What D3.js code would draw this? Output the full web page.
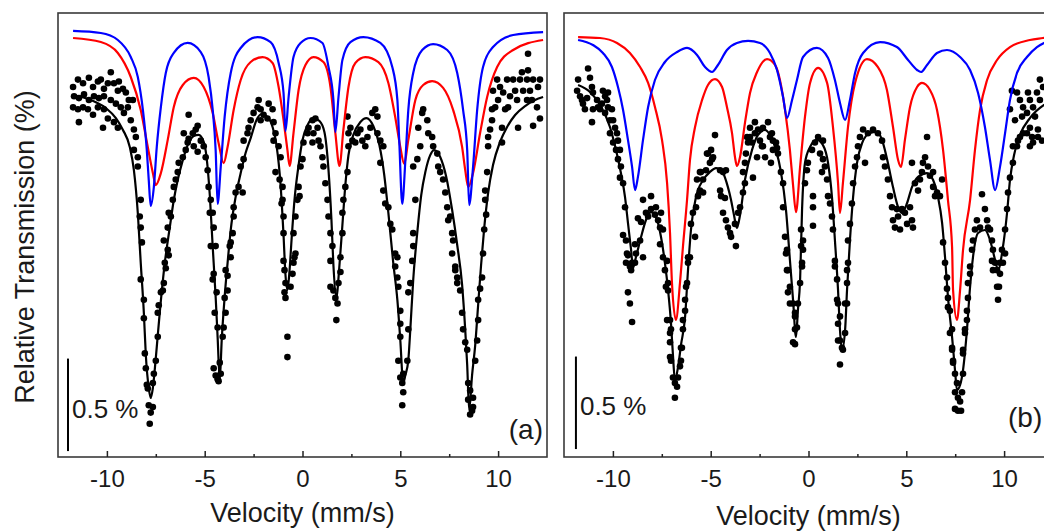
<!DOCTYPE html>
<html><head><meta charset="utf-8">
<script src="https://cdn.jsdelivr.net/npm/d3@7"></script>
<style>
body{margin:0;background:#fff;}
svg text{font-family:"Liberation Sans",Arial,sans-serif;fill:#1a1a1a;}
</style>
</head><body>
<svg id="chart" width="1044" height="532"></svg>
<script>
// ---------------- data ----------------
const velocityDomain = [-12.5, 12.5];
const transmissionDomain = [97.6, 100.0];
const velocityTicks = [-10, -5, 0, 5, 10];
const velocityTickLabels = ["-10", "-5", "0", "5", "10"];
const velocityMinorTicks = [-7.5, -2.5, 2.5, 7.5];
const xTitle = "Velocity (mm/s)";
const yTitle = "Relative Transmission (%)";
const panelNames = ["(a)", "(b)"];
const scaleBarText = "0.5 %";
const scaleBarSpan = 0.5;

// panel (a): measured spectrum [velocity mm/s, transmission %]
const aMeasured = [
[-11.73,99.60],[-11.48,99.64],[-11.22,99.62],[-10.92,99.65],[-10.71,99.60],[-10.46,99.63],[-10.31,99.64],[-10.15,99.59],[-9.95,99.62],[-9.80,99.68],[-9.64,99.62],[-9.44,99.58],[-9.39,99.63],[-9.18,99.59],[-9.03,99.57],[-8.88,99.53],[-8.67,99.53],
[-11.68,99.55],[-11.43,99.54],[-11.17,99.56],[-10.92,99.53],[-10.66,99.55],[-10.41,99.54],[-10.15,99.55],[-9.80,99.53],[-9.54,99.51],[-9.29,99.49],[-8.93,99.49],
[-11.73,99.49],[-11.48,99.48],[-11.22,99.49],[-10.97,99.48],[-10.71,99.45],[-10.46,99.49],[-10.15,99.48],
[-11.43,99.41],[-10.20,99.38],[-9.95,99.43],[-9.64,99.41],[-9.44,99.38],[-9.13,99.46],[-8.78,99.42],[-8.62,99.37],[-8.52,99.33],[-8.42,99.22],[-8.62,99.26],[-8.42,99.17],[-8.27,98.99],[-8.32,98.90],[-8.27,98.84],[-8.21,98.76],
[-8.27,98.56],[-8.11,98.45],[-8.11,98.35],[-8.06,98.16],[-8.01,98.08],[-7.96,97.99],[-7.91,97.97],[-7.86,97.88],[-7.76,97.84],[-7.81,97.78],[-7.65,97.87],[-7.65,98.00],[-7.60,98.05],[-7.50,98.12],[-7.40,98.38],[-7.35,98.42],[-7.24,98.49],[-7.09,98.54],[-6.99,98.62],[-6.84,98.69],
[-7.09,98.77],[-6.89,98.84],[-6.84,98.92],[-6.63,98.99],[-6.58,99.06],[-6.38,99.14],[-6.33,99.19],[-6.12,99.22],[-5.97,99.26],[-5.87,99.30],[-5.82,99.32],[-5.61,99.35],[-5.46,99.37],[-5.36,99.39],[-5.82,99.45],[-5.56,99.28],[-5.36,99.25],[-5.20,99.31],[-5.05,99.28],[-4.95,99.22],[-4.85,99.15],[-4.80,99.06],[-4.69,98.99],[-4.59,98.92],[-4.54,98.84],[-4.44,98.74],[-6.07,99.35],
[-7.40,98.25],[-7.14,98.50],[-7.04,98.65],[-6.89,98.72],[-6.73,98.90],[-6.48,99.10],
[-4.54,98.59],[-4.39,98.49],[-4.34,98.30],[-4.54,98.08],[-4.44,98.04],[-4.34,98.02],[-4.29,98.01],[-4.18,98.05],[-4.23,98.11],[-4.08,98.25],[-4.03,98.30],[-3.93,98.38],[-3.83,98.50],[-3.83,98.58],[-3.67,98.68],
[-4.74,98.92],[-4.69,98.74],[-4.59,98.56],[-4.49,98.38],[-3.98,98.46],[-3.93,98.61],[-3.72,98.74],[-3.06,99.03],
[-3.67,98.76],[-3.57,98.81],[-3.52,98.90],[-3.52,98.95],[-3.42,99.03],[-3.27,99.06],[-3.16,99.17],[-3.01,99.21],[-3.01,99.31],[-2.81,99.35],[-2.76,99.38],[-2.65,99.42],[-2.50,99.46],[-2.30,99.49],[-2.24,99.53],[-2.14,99.48],[-1.99,99.45],[-1.79,99.43],[-2.14,99.42],[-1.73,99.51],[-1.53,99.48],[-1.48,99.41],[-1.38,99.35],[-1.48,99.31],[-1.22,99.28],[-1.12,99.22],[-1.17,99.10],[-1.02,99.06],[-1.07,98.97],[-0.97,98.90],[-0.97,98.81],[-1.38,99.14],
[-0.97,98.66],[-0.92,98.61],[-0.87,98.54],[-0.92,98.49],[-0.87,98.46],[-0.77,98.25],[-0.77,98.14],[-0.61,98.52],[-0.51,98.59],[-0.46,98.65],[-0.36,98.70],[-0.41,98.68],
[-1.02,98.99],[-0.46,98.81],[-0.36,98.90],[-0.26,98.99],[-0.15,99.01],[-0.20,99.06],[-0.10,99.17],[0.00,99.21],[0.05,99.30],[0.26,99.35],[0.31,99.38],[0.51,99.42],[0.66,99.43],[0.77,99.38],[0.56,99.35],[0.82,99.31],[0.92,99.28],[0.51,99.30],[1.02,99.22],[1.07,99.17],[1.17,99.08],[1.28,98.99],[1.33,98.90],[1.43,98.81],[1.53,98.74],
[1.43,98.66],[1.43,98.52],[1.58,98.50],[1.68,98.46],[1.79,98.43],[1.73,98.34],[1.84,98.54],[1.94,98.60],[1.94,98.68],
[2.04,98.81],[2.04,98.92],[2.09,98.99],[2.19,99.06],[2.30,99.14],[2.35,99.28],[2.35,99.35],[2.45,99.38],[2.30,99.44],[2.55,99.31],[2.70,99.30],[2.81,99.35],[2.96,99.37],[3.06,99.31],[3.21,99.28],[3.32,99.33],[3.47,99.38],[3.57,99.46],[3.72,99.48],[3.83,99.44],[3.83,99.35],[3.98,99.31],[4.13,99.28],[3.98,99.19],
[4.13,99.04],[4.23,98.97],[4.39,98.95],[4.49,98.86],[4.59,98.83],[4.74,98.70],[4.85,98.68],[4.74,98.63],[4.85,98.57],[4.90,98.52],[5.00,98.39],[5.00,98.32],[5.00,98.25],[4.90,98.12],
[5.00,98.03],[5.10,98.00],[5.15,98.05],[5.15,97.95],[5.10,97.88],[5.36,98.12],[5.41,98.29],[5.41,98.49],[5.51,98.54],[5.61,98.66],
[5.66,98.74],[5.66,98.81],[5.77,98.99],[5.66,99.17],[5.87,99.21],[6.02,99.28],[5.92,99.38],[6.12,99.46],[6.17,99.48],[6.38,99.42],[6.43,99.35],[6.63,99.33],[6.68,99.28],[6.89,99.24],[6.94,99.17],[7.04,99.14],[7.19,99.10],[7.30,99.03],[7.40,98.95],[7.55,98.90],[7.65,98.81],[7.70,98.77],
[7.45,98.88],[7.81,98.61],[7.91,98.54],[8.32,98.22],
[7.65,98.70],[7.81,98.63],[7.91,98.57],[8.06,98.50],[8.16,98.38],[8.21,98.29],[8.42,98.18],[8.47,98.00],[8.57,97.96],[8.47,97.91],[8.67,97.85],[8.57,97.83],[8.72,97.87],[8.72,97.92],[8.83,98.12],[8.93,98.23],[8.98,98.34],[8.98,98.45],[9.08,98.51],[9.18,98.57],[9.23,98.70],[9.29,98.83],[9.39,98.91],
[9.34,98.99],[9.34,99.04],[9.44,99.14],[9.49,99.28],[9.49,99.33],[9.59,99.37],[9.69,99.42],[9.69,99.48],[9.85,99.49],[10.00,99.53],[10.20,99.38],[10.20,99.30],[9.95,99.64],[10.10,99.60],[10.26,99.57],[10.46,99.64],[10.51,99.49],[10.61,99.55],[10.77,99.64],[10.87,99.58],[10.97,99.53],[11.02,99.38],[11.12,99.64],[11.22,99.68],[11.28,99.58],[11.48,99.64],[11.48,99.53],[11.53,99.78],[11.53,99.69],[11.63,99.58],[11.73,99.53],[11.79,99.64],[11.79,99.39],[11.99,99.49],[12.04,99.60],[12.14,99.64],[12.14,99.43],[9.74,99.58],[10.36,99.48]
];
// panel (a): total fit (black)
const aFit = [
[-11.73,99.557],[-10.82,99.530],[-10.05,99.486],[-9.54,99.432],[-9.18,99.368],[-8.83,99.276],[-8.62,99.151],[-8.42,98.919],[-8.27,98.649],[-8.11,98.378],[-8.01,98.151],[-7.86,97.973],[-7.76,97.919],[-7.65,97.973],[-7.50,98.135],[-7.30,98.378],[-7.04,98.649],[-6.79,98.838],[-6.58,98.989],[-6.38,99.097],[-6.12,99.205],[-5.87,99.286],[-5.56,99.335],[-5.31,99.341],[-5.05,99.303],[-4.90,99.216],[-4.74,99.016],[-4.59,98.735],[-4.44,98.465],[-4.34,98.249],[-4.23,98.016],[-4.13,98.232],[-3.98,98.465],[-3.83,98.649],[-3.67,98.827],[-3.42,99.005],[-3.16,99.135],[-2.91,99.243],[-2.65,99.324],[-2.35,99.422],[-2.09,99.454],[-1.79,99.438],[-1.53,99.384],[-1.33,99.286],[-1.12,99.070],[-0.97,98.800],[-0.87,98.584],[-0.77,98.503],[-0.66,98.611],[-0.56,98.773],[-0.41,98.989],[-0.20,99.178],[0.00,99.314],[0.26,99.395],[0.56,99.432],[0.87,99.416],[1.12,99.357],[1.33,99.151],[1.48,98.881],[1.58,98.638],[1.73,98.465],[1.89,98.638],[2.04,98.854],[2.19,99.070],[2.35,99.232],[2.60,99.341],[2.96,99.411],[3.27,99.432],[3.62,99.389],[3.93,99.286],[4.18,99.124],[4.39,98.919],[4.64,98.649],[4.85,98.449],[5.00,98.232],[5.15,98.000],[5.26,98.043],[5.41,98.124],[5.51,98.286],[5.66,98.557],[5.87,98.816],[6.07,99.016],[6.28,99.141],[6.53,99.232],[6.73,99.259],[7.04,99.222],[7.35,99.114],[7.65,98.935],[7.91,98.746],[8.16,98.530],[8.32,98.286],[8.42,98.097],[8.52,97.854],[8.67,98.043],[8.83,98.205],[8.98,98.422],[9.13,98.638],[9.29,98.838],[9.49,99.027],[9.74,99.178],[10.10,99.303],[10.46,99.384],[10.87,99.449],[11.38,99.497],[11.89,99.530],[12.30,99.546]
];
// panel (a): sub-spectrum 1 (red)
const aRed = [
[-11.73,99.865],[-10.31,99.843],[-9.44,99.784],[-8.78,99.654],[-8.27,99.476],[-7.91,99.276],[-7.65,99.135],[-7.50,99.070],[-7.24,99.135],[-6.89,99.314],[-6.58,99.492],[-6.12,99.611],[-5.56,99.649],[-5.05,99.600],[-4.59,99.459],[-4.29,99.297],[-4.03,99.189],[-3.83,99.276],[-3.52,99.476],[-3.16,99.638],[-2.65,99.735],[-2.04,99.762],[-1.53,99.730],[-1.22,99.600],[-0.97,99.422],[-0.77,99.259],[-0.66,99.173],[-0.46,99.351],[-0.20,99.584],[0.15,99.719],[0.56,99.762],[1.07,99.735],[1.43,99.600],[1.68,99.351],[1.89,99.173],[2.09,99.368],[2.35,99.600],[2.70,99.730],[3.21,99.762],[3.88,99.735],[4.39,99.622],[4.74,99.438],[5.00,99.276],[5.20,99.184],[5.41,99.314],[5.77,99.530],[6.17,99.611],[6.63,99.632],[7.19,99.595],[7.70,99.476],[8.16,99.276],[8.32,99.151],[8.47,99.059],[8.72,99.135],[9.08,99.351],[9.44,99.546],[9.95,99.708],[10.77,99.800],[12.30,99.854]
];
// panel (a): sub-spectrum 2 (blue)
const aBlue = [
[-11.73,99.903],[-10.31,99.892],[-9.44,99.854],[-8.78,99.762],[-8.42,99.654],[-8.16,99.476],[-7.96,99.259],[-7.86,99.097],[-7.76,98.957],[-7.60,99.059],[-7.45,99.276],[-7.24,99.492],[-6.99,99.676],[-6.58,99.784],[-5.87,99.838],[-5.20,99.789],[-4.80,99.654],[-4.59,99.476],[-4.44,99.259],[-4.34,98.968],[-4.18,99.168],[-3.98,99.438],[-3.67,99.676],[-3.16,99.811],[-2.30,99.870],[-1.63,99.843],[-1.22,99.730],[-0.97,99.568],[-0.87,99.362],[-0.71,99.546],[-0.46,99.762],[-0.10,99.838],[0.41,99.865],[1.02,99.838],[1.33,99.708],[1.58,99.530],[1.68,99.357],[1.84,99.546],[2.04,99.746],[2.45,99.843],[3.11,99.870],[3.98,99.838],[4.59,99.708],[4.85,99.530],[4.95,99.297],[5.10,98.968],[5.26,99.205],[5.41,99.476],[5.66,99.676],[6.12,99.800],[6.68,99.832],[7.40,99.800],[7.91,99.676],[8.21,99.476],[8.42,99.259],[8.52,98.962],[8.72,99.168],[8.93,99.476],[9.23,99.708],[9.74,99.816],[10.77,99.881],[12.30,99.897]
];

// panel (b): measured spectrum
const bMeasured = [
[-11.78,99.64],[-11.83,99.58],[-11.68,99.55],[-11.58,99.53],[-11.53,99.51],[-11.32,99.54],[-11.27,99.70],[-11.17,99.65],[-11.07,99.60],[-11.02,99.57],[-10.81,99.53],[-10.76,99.49],[-10.66,99.48],[-10.51,99.58],[-10.40,99.55],[-10.30,99.53],[-10.25,99.57],[-10.56,99.51],[-10.25,99.49],[-10.05,99.48],[-9.99,99.42],[-9.89,99.38],[-9.79,99.35],[-9.74,99.31],[-9.64,99.26],[-11.07,99.41],[-11.02,99.48],[-11.43,99.48],[-10.40,99.46],[-10.15,99.42],
[-10.15,99.35],[-9.99,99.30],[-9.84,99.26],[-9.74,99.21],[-9.59,99.17],[-9.64,99.11],[-9.48,99.08],[-9.38,98.95],[-9.48,98.80],[-9.33,98.77],[-9.23,98.69],[-9.33,98.65],[-9.13,98.63],[-9.07,98.61],[-8.87,98.65],[-8.87,98.75],[-8.82,98.70],[-8.61,98.77],[-8.46,98.68],[-8.72,98.89],[-8.56,98.87],[-8.46,98.99],[-8.31,98.92],[-8.20,98.90],[-8.05,99.01],[-8.05,98.94],[-7.85,98.91],[-7.80,98.95],[-7.69,98.88],[-7.59,98.84],[-7.54,98.92],[-7.44,98.83],[-7.59,98.75],[-7.44,98.68],[-7.34,98.61],[-7.29,98.52],[-7.18,98.50],[-7.08,98.34],[-7.03,98.29],[-7.08,98.22],[-7.03,98.12],
[-6.52,98.12],[-6.52,98.19],[-6.42,98.29],[-6.31,98.39],[-6.26,98.52],[-6.16,98.65],[-6.06,98.68],[-5.80,98.79],[-6.01,98.86],[-5.91,98.92],[-5.75,98.95],[-5.65,99.01],[-5.55,99.04],[-5.39,99.10],[-5.50,99.14],[-5.24,99.15],[-5.04,99.19],[-5.14,99.24],[-4.98,99.26],[-4.88,99.22],[-4.78,99.34],[-4.52,99.15],[-4.37,99.14],[-4.22,99.15],[-4.52,99.04],[-4.47,99.01],[-4.27,99.00],[-4.37,98.92],[-4.22,98.88],[-4.12,98.84],[-4.01,98.81],[-3.96,98.79],[-3.71,98.74],[-3.76,98.86],[-3.60,98.92],[-3.50,98.95],[-3.35,99.03],[-3.25,99.08],[-3.35,99.14],[-3.25,99.19],[-3.20,99.24],[-3.09,99.30],[-2.99,99.33],[-2.84,99.11],[-2.74,99.35],[-2.48,99.31],[-2.33,99.28],[-2.22,99.22],[-1.97,99.33],[-1.92,99.19],[-1.82,99.26],[-1.66,99.30],[-1.56,99.24],[-1.41,99.14],[-1.30,99.08],[-1.30,98.95],[-1.20,98.79],[-1.15,98.70],[-1.05,98.61],[-0.95,98.52],[-0.79,98.43],[-0.69,98.38],[-0.69,98.29],[-0.79,98.22],[-0.38,98.74],[-0.38,98.83],
[-2.99,99.38],[-2.74,99.41],[-2.58,99.37],[-2.33,99.38],[-2.07,99.41],[-1.87,99.35],[-1.82,99.31],[-1.61,99.27],[-2.38,99.28],[-2.89,99.30],[-2.63,99.22],[-3.14,99.33],[-4.93,99.21],[-5.19,99.24],[-5.55,99.14],[-5.70,99.10],[-5.39,99.03],
[-9.28,98.70],[-9.02,98.65],[-9.23,98.49],[-9.13,98.43],[-9.02,98.33],[-7.23,98.66],[-7.18,98.54],[-7.23,98.34],[-7.08,98.27],[-7.08,98.14],[-6.93,98.03],[-6.83,98.00],[-6.72,97.98],[-6.83,97.92],[-6.67,98.03],[-6.57,98.09],[-6.47,98.19],[-6.42,98.34],[-6.31,98.45],[-6.21,98.54],[-6.16,98.68],
[-1.10,98.72],[-1.10,98.61],[-1.05,98.49],[-0.95,98.43],[-0.69,98.36],[-0.59,98.30],[-0.69,98.21],[-0.54,98.43],[-0.43,98.54],[-0.33,98.63],[-0.28,98.72],
[-0.28,98.77],[-0.33,98.65],[-0.18,99.08],[-0.08,99.15],[-0.03,99.19],[0.23,99.01],[0.23,98.95],[0.23,98.85],[0.18,99.26],[0.33,99.30],[0.49,99.33],[0.74,99.31],[0.59,99.24],[0.74,99.21],[0.84,99.17],[0.95,99.10],[0.69,99.14],[1.00,99.01],[1.10,98.97],[1.20,98.90],[1.25,98.83],[1.35,98.63],[1.46,98.56],[1.51,98.43],[1.61,98.36],[1.61,98.23],[1.71,98.19],[1.76,98.18],[1.61,98.10],[1.87,98.43],[1.97,98.61],[2.02,98.77],[2.12,98.86],[2.22,98.97],[2.28,99.08],[2.38,99.17],[2.48,99.22],[2.53,99.28],[2.63,99.33],[2.89,99.19],[2.79,99.37],[3.04,99.35],[3.30,99.37],[3.55,99.35],[3.76,99.31],[3.81,99.22],[3.91,99.17],[4.06,99.10],[4.17,99.01],[4.27,98.95],[4.32,98.88],[4.52,98.94],[4.58,98.90],[4.68,98.83],[4.78,98.94],[4.93,98.92],[5.04,98.86],[5.29,98.88],[5.34,98.84],[4.42,98.84],[5.19,98.95],[5.29,99.19],[5.44,99.08],[5.60,99.04],[5.70,99.10],[5.80,99.14],[5.85,99.19],[5.96,99.22],[6.06,99.33],[6.11,99.17],[6.21,99.12],[6.37,99.14],[6.37,99.06],[6.47,99.01],[6.57,99.03],[6.72,99.01],[6.83,99.10],[6.88,98.76],[6.98,98.65],[7.08,98.57],[7.13,98.46],[7.23,98.39],[7.34,98.29],[7.34,98.19],[7.39,98.11],[7.90,98.16],[8.00,98.27],[8.10,98.34],[8.15,98.46],[8.26,98.59],[8.36,98.72],[8.41,98.77],[8.51,98.83],[8.61,98.88],[8.77,98.84],[8.87,99.02],[9.02,98.94],[9.13,98.88],[9.18,98.84],[9.28,98.83],[9.38,98.77],[9.43,98.72],[9.54,98.65],[9.64,98.61],[9.79,98.65],[9.89,98.72],[9.74,98.52],[9.69,98.45],[10.05,98.83],[10.15,98.94],[10.20,99.03],[10.30,99.11],[10.45,99.19],[10.66,99.28],[10.81,99.33],[11.17,99.35],[11.48,99.30],[11.73,99.33],[11.32,99.28],
[7.08,98.51],[7.13,98.41],[7.23,98.27],[7.34,98.18],[7.39,98.12],[7.49,98.05],[7.49,97.95],[7.59,98.00],[7.64,97.92],[7.75,97.90],[7.49,97.86],[7.64,97.85],[7.80,97.85],[7.85,97.95],[7.90,98.05],[7.90,98.18],[8.00,98.29],[8.10,98.39],[8.15,98.54],[8.26,98.63],
[9.38,98.66],[9.43,98.61],[9.64,98.52],[9.79,98.59],[9.94,98.65],[10.05,98.70],
[1.35,98.66],[1.46,98.45],[1.51,98.32],[1.51,98.23],[1.87,98.27],[1.97,98.43],[1.97,98.54],[2.02,98.65],
[10.40,99.58],[10.66,99.57],[10.81,99.53],[10.97,99.49],[11.22,99.57],[11.32,99.53],[11.48,99.49],[11.68,99.57],[11.83,99.53],[11.99,99.60],[11.83,99.64],[11.58,99.44],[11.32,99.38],[10.97,99.35],[10.71,99.31],[10.45,99.28],[11.43,99.33],[11.73,99.37],[11.94,99.31],[10.30,99.48],[10.56,99.42],[10.92,99.44],[11.17,99.46]
];
// panel (b): total fit (black)
const bFit = [
[-11.78,99.611],[-11.17,99.573],[-10.66,99.503],[-10.15,99.384],[-9.84,99.259],[-9.59,99.135],[-9.38,99.005],[-9.23,98.865],[-9.07,98.719],[-8.97,98.622],[-8.82,98.681],[-8.56,98.789],[-8.31,98.881],[-8.05,98.924],[-7.80,98.897],[-7.54,98.789],[-7.34,98.649],[-7.18,98.503],[-7.03,98.324],[-6.93,98.151],[-6.83,98.016],[-6.67,98.086],[-6.52,98.205],[-6.31,98.357],[-6.16,98.611],[-6.01,98.827],[-5.75,99.005],[-5.39,99.097],[-5.04,99.141],[-4.73,99.162],[-4.37,99.135],[-4.12,99.059],[-3.96,98.989],[-3.81,98.908],[-3.66,98.838],[-3.50,98.908],[-3.25,99.097],[-2.89,99.259],[-2.58,99.341],[-2.22,99.368],[-1.92,99.330],[-1.66,99.259],[-1.41,99.141],[-1.15,98.935],[-0.95,98.665],[-0.79,98.449],[-0.64,98.249],[-0.54,98.395],[-0.43,98.557],[-0.33,98.935],[-0.18,99.189],[0.08,99.276],[0.43,99.314],[0.74,99.286],[1.00,99.189],[1.20,99.005],[1.35,98.773],[1.51,98.503],[1.61,98.286],[1.71,98.178],[1.87,98.286],[1.97,98.503],[2.12,98.773],[2.28,99.005],[2.48,99.189],[2.74,99.297],[3.14,99.351],[3.50,99.357],[3.81,99.297],[4.06,99.189],[4.32,99.059],[4.58,98.951],[4.78,98.919],[5.04,98.973],[5.29,99.059],[5.60,99.114],[6.06,99.135],[6.37,99.097],[6.62,99.005],[6.83,98.865],[6.98,98.681],[7.13,98.465],[7.34,98.249],[7.49,98.070],[7.59,97.962],[7.75,97.989],[7.90,98.070],[8.10,98.286],[8.26,98.519],[8.41,98.681],[8.67,98.811],[9.02,98.827],[9.28,98.773],[9.54,98.665],[9.69,98.611],[9.94,98.735],[10.15,98.919],[10.30,99.097],[10.51,99.232],[10.81,99.341],[11.32,99.432],[12.04,99.503],[12.30,99.519]
];
// panel (b): sub-spectrum 1 (red)
const bRed = [
[-11.78,99.870],[-10.66,99.865],[-9.79,99.838],[-9.13,99.784],[-8.61,99.708],[-8.20,99.622],[-7.85,99.492],[-7.49,99.314],[-7.23,99.081],[-7.08,98.811],[-6.98,98.541],[-6.78,98.341],[-6.57,98.541],[-6.42,98.735],[-6.21,98.989],[-6.06,99.205],[-5.80,99.384],[-5.44,99.530],[-5.14,99.611],[-4.78,99.643],[-4.42,99.600],[-4.17,99.492],[-3.91,99.351],[-3.76,99.222],[-3.66,99.173],[-3.50,99.222],[-3.25,99.405],[-2.99,99.568],[-2.63,99.681],[-2.12,99.751],[-1.71,99.719],[-1.46,99.638],[-1.20,99.476],[-0.95,99.259],[-0.79,99.070],[-0.64,98.924],[-0.43,99.168],[-0.18,99.438],[0.08,99.622],[0.49,99.703],[0.95,99.622],[1.25,99.384],[1.51,99.081],[1.61,98.919],[1.76,99.081],[2.02,99.384],[2.38,99.622],[2.99,99.751],[3.55,99.708],[4.01,99.584],[4.32,99.384],[4.58,99.205],[4.73,99.168],[4.93,99.314],[5.19,99.492],[5.55,99.600],[5.80,99.622],[6.21,99.584],[6.57,99.476],[6.88,99.259],[7.13,98.989],[7.34,98.735],[7.39,98.503],[7.59,98.341],[7.75,98.503],[7.90,98.719],[8.26,98.989],[8.51,99.259],[8.77,99.476],[9.13,99.638],[9.64,99.746],[10.30,99.816],[11.32,99.854],[11.99,99.865],[12.30,99.870]
];
// panel (b): sub-spectrum 2 (blue)
const bBlue = [
[-11.78,99.854],[-11.02,99.827],[-10.51,99.784],[-10.05,99.708],[-9.74,99.600],[-9.48,99.476],[-9.23,99.314],[-9.02,99.168],[-8.87,99.043],[-8.72,99.114],[-8.46,99.314],[-8.20,99.492],[-7.85,99.638],[-7.34,99.735],[-6.72,99.789],[-6.21,99.811],[-5.70,99.773],[-5.29,99.708],[-4.93,99.681],[-4.63,99.719],[-4.17,99.800],[-3.66,99.838],[-3.09,99.849],[-2.48,99.838],[-1.97,99.784],[-1.61,99.692],[-1.30,99.546],[-1.10,99.432],[-0.84,99.530],[-0.59,99.638],[-0.28,99.762],[0.43,99.811],[1.00,99.757],[1.35,99.638],[1.61,99.514],[1.87,99.422],[2.12,99.530],[2.38,99.676],[2.79,99.784],[3.66,99.843],[4.52,99.816],[5.09,99.746],[5.55,99.692],[5.75,99.681],[6.06,99.719],[6.57,99.784],[7.08,99.800],[7.75,99.762],[8.26,99.692],[8.67,99.568],[9.02,99.384],[9.28,99.205],[9.54,99.043],[9.79,99.168],[10.05,99.351],[10.30,99.530],[10.66,99.676],[11.17,99.762],[11.68,99.816],[12.04,99.838],[12.30,99.849]
];

// ---------------- layout / style ----------------
const panels = [
  {name: panelNames[0], left: 58, top: 13, width: 489, height: 444,
   measured: aMeasured, fit: aFit, red: aRed, blue: aBlue,
   bar: {v: -11.99, from: 97.632}, barText: {dx: 4, y: 418},
   nameX: 543, nameY: 439, titleY: 522},
  {name: panelNames[1], left: 564, top: 13, width: 489, height: 444,
   measured: bMeasured, fit: bFit, red: bRed, blue: bBlue,
   bar: {v: -11.89, from: 97.643}, barText: {dx: 4, y: 415},
   nameX: 1008, nameY: 427, titleY: 525, nameAnchor: "start"}
];

const svg = d3.select("#chart");
svg.append("rect").attr("width",1044).attr("height",532).attr("fill","#fff");

panels.forEach((p, i) => {
  const x = d3.scaleLinear().domain(velocityDomain).range([p.left, p.left + p.width]);
  const y = d3.scaleLinear().domain(transmissionDomain).range([p.top + p.height, p.top]);
  const g = svg.append("g");
  const clipId = "clip" + i;
  g.append("clipPath").attr("id", clipId).append("rect")
    .attr("x", p.left).attr("y", p.top).attr("width", p.width).attr("height", p.height);
  const plot = g.append("g").attr("clip-path", `url(#${clipId})`);
  const line = d3.line().x(d => x(d[0])).y(d => y(d[1])).curve(d3.curveMonotoneX);

  plot.selectAll("circle").data(p.measured).join("circle")
    .attr("cx", d => x(d[0])).attr("cy", d => y(d[1])).attr("r", 3.3).attr("fill", "#000");
  plot.append("path").datum(p.fit).attr("d", line).attr("fill", "none")
    .attr("stroke", "#000").attr("stroke-width", 2.2);
  plot.append("path").datum(p.red).attr("d", line).attr("fill", "none")
    .attr("stroke", "#ff0000").attr("stroke-width", 2.2);
  plot.append("path").datum(p.blue).attr("d", line).attr("fill", "none")
    .attr("stroke", "#0000ff").attr("stroke-width", 2.2);

  // scale bar
  g.append("line")
    .attr("x1", x(p.bar.v)).attr("x2", x(p.bar.v))
    .attr("y1", y(p.bar.from)).attr("y2", y(p.bar.from + scaleBarSpan))
    .attr("stroke", "#000").attr("stroke-width", 2);
  g.append("text").attr("x", x(p.bar.v) + p.barText.dx).attr("y", p.barText.y)
    .attr("font-size", 26).text(scaleBarText);

  // frame
  g.append("rect").attr("x", p.left).attr("y", p.top).attr("width", p.width).attr("height", p.height)
    .attr("fill", "none").attr("stroke", "#3a3a3a").attr("stroke-width", 1.6);

  // axes
  const axis = g.append("g").attr("transform", `translate(0,${p.top + p.height})`)
    .call(d3.axisBottom(x).tickValues(velocityTicks).tickSize(-6).tickPadding(13)
      .tickFormat((d, k) => velocityTickLabels[k]));
  axis.select(".domain").remove();
  axis.selectAll("line").attr("stroke", "#222").attr("stroke-width", 1.5);
  axis.selectAll("text").attr("font-size", 24).attr("font-family", '"Liberation Sans",Arial,sans-serif').attr("fill", "#1a1a1a");
  const minor = g.append("g").attr("transform", `translate(0,${p.top + p.height})`)
    .call(d3.axisBottom(x).tickValues(velocityMinorTicks).tickSize(-3).tickFormat(""));
  minor.select(".domain").remove();
  minor.selectAll("line").attr("stroke", "#222").attr("stroke-width", 1.5);

  // x title
  g.append("text").attr("x", x(0)).attr("y", p.titleY).attr("text-anchor", "middle")
    .attr("font-size", 27).text(xTitle);
  // panel name
  g.append("text").attr("x", p.nameX).attr("y", p.nameY)
    .attr("text-anchor", p.nameAnchor || "end").attr("font-size", 28).text(p.name);
});

// y title
svg.append("text").attr("transform", "translate(34,247) rotate(-90)")
  .attr("text-anchor", "middle").attr("font-size", 27).text(yTitle);
</script>
</body></html>
